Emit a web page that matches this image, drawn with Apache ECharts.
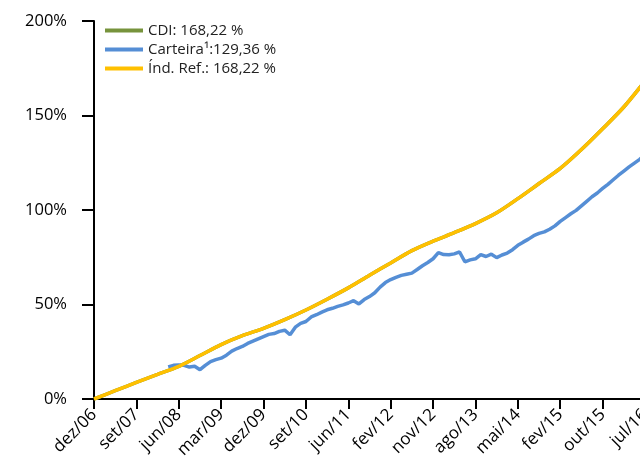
<!DOCTYPE html>
<html>
<head>
<meta charset="utf-8">
<script src="https://cdn.jsdelivr.net/npm/echarts@6/dist/echarts.min.js"></script>
<style>
  html, body { margin: 0; padding: 0; background: #fff; }
  #chart { width: 640px; height: 460px; }
</style>
</head>
<body>
<div id="chart"></div>
<script>
// rótulos do eixo x (um por marca, espaçados igualmente)
var tickLabels = ['dez/06', 'set/07', 'jun/08', 'mar/09', 'dez/09', 'set/10', 'jun/11',
    'fev/12', 'nov/12', 'ago/13', 'mai/14', 'fev/15', 'out/15', 'jul/16'];

// CDI e índice de referência: um ponto a cada meia marca, a partir de dez/06
var refStep = 0.5;
var cdiValues = [0, 4.4, 8.8, 13, 17.3, 23, 28.8, 33.5, 37.4, 42, 47.1, 52.8, 58.8, 65.5,
    72, 78.5, 83.5, 88, 92.8, 98.5, 106, 114, 122, 132, 143, 154.5, 168.22];
var indRefValues = [0, 4.4, 8.8, 13, 17.3, 23, 28.8, 33.5, 37.4, 42, 47.1, 52.8, 58.8, 65.5,
    72, 78.5, 83.5, 88, 92.8, 98.5, 106, 114, 122, 132, 143, 154.5, 168.22];

// carteira: começa perto de jun/08, um ponto a cada 1/8 de marca
var carteiraStart = 1.75;
var carteiraStep = 0.125;
var carteiraValues = [17.0, 17.8,
    18.0, 17.8, 16.9, 17.3, 15.5, 17.8, 19.8, 20.8,
    21.6, 23.2, 25.3, 26.7, 27.8, 29.4, 30.6, 31.8,
    33.0, 34.2, 34.6, 35.8, 36.4, 34.0, 38.0, 40.0,
    41.0, 43.4, 44.6, 46.0, 47.2, 48.0, 49.0, 49.8,
    50.8, 52.0, 50.3, 52.6, 54.2, 56.2, 59.2, 61.6,
    63.2, 64.4, 65.4, 66.0, 66.6, 68.5, 70.5, 72.2,
    74.2, 77.4, 76.4, 76.3, 76.8, 77.8, 72.6, 73.6,
    74.2, 76.4, 75.4, 76.6, 74.8, 76.2, 77.2, 79.0,
    81.3, 83.0, 84.6, 86.4, 87.6, 88.4, 89.8, 91.6,
    94.0, 96.0, 98.0, 99.8, 102.2, 104.6, 107.0, 109.0,
    111.4, 113.6, 116.0, 118.4, 120.6, 122.8, 124.8, 126.8,
    129.36];

var yTicks = [0, 50, 100, 150, 200];

function toPoints(values, start, step) {
    return values.map(function (v, i) { return [start + i * step, v]; });
}

var chart = echarts.init(document.getElementById('chart'));
var font = "'Open Sans', 'Noto Sans', sans-serif";

var option = {
    animation: false,
    textStyle: { fontFamily: font },
    legend: {
        orient: 'vertical',
        left: 100,
        top: 18,
        itemWidth: 38,
        itemHeight: 4,
        itemGap: 4,
        icon: 'rect',
        textStyle: { fontSize: 15, color: '#222', fontFamily: font },
        data: ['CDI: 168,22 %', 'Carteira¹:129,36 %', 'Índ. Ref.: 168,22 %']
    },
    grid: {
        left: 94,
        top: 21,
        width: 551,
        height: 378,
        outerBoundsMode: 'none'
    },
    xAxis: {
        type: 'value',
        min: 0,
        max: tickLabels.length - 1,
        interval: 1,
        axisLine: { lineStyle: { color: '#000', width: 2 } },
        axisTick: { length: 10, lineStyle: { color: '#000', width: 2 } },
        splitLine: { show: false },
        axisLabel: {
            rotate: 45,
            margin: 13,
            fontSize: 17,
            color: '#000',
            fontFamily: font,
            hideOverlap: false,
            formatter: function (v) { return tickLabels[v] || ''; }
        }
    },
    yAxis: {
        type: 'value',
        min: yTicks[0],
        max: yTicks[yTicks.length - 1],
        interval: 50,
        axisLine: { show: true, lineStyle: { color: '#000', width: 2 } },
        axisTick: { show: true, length: 12, lineStyle: { color: '#000', width: 2 } },
        splitLine: { show: false },
        axisLabel: {
            margin: 27,
            fontSize: 16.5,
            color: '#000',
            fontFamily: font,
            formatter: '{value}%'
        }
    },
    series: [
        {
            name: 'CDI: 168,22 %',
            type: 'line',
            symbol: 'none',
            smooth: 0.3,
            color: '#77933C',
            lineStyle: { width: 3.5 },
            data: toPoints(cdiValues, 0, refStep)
        },
        {
            name: 'Carteira¹:129,36 %',
            type: 'line',
            symbol: 'none',
            color: '#558ED5',
            lineStyle: { width: 3.5 },
            data: toPoints(carteiraValues, carteiraStart, carteiraStep)
        },
        {
            name: 'Índ. Ref.: 168,22 %',
            type: 'line',
            symbol: 'none',
            smooth: 0.3,
            color: '#FFC000',
            lineStyle: { width: 3.5 },
            data: toPoints(indRefValues, 0, refStep)
        }
    ]
};
chart.setOption(option);
</script>
</body>
</html>
